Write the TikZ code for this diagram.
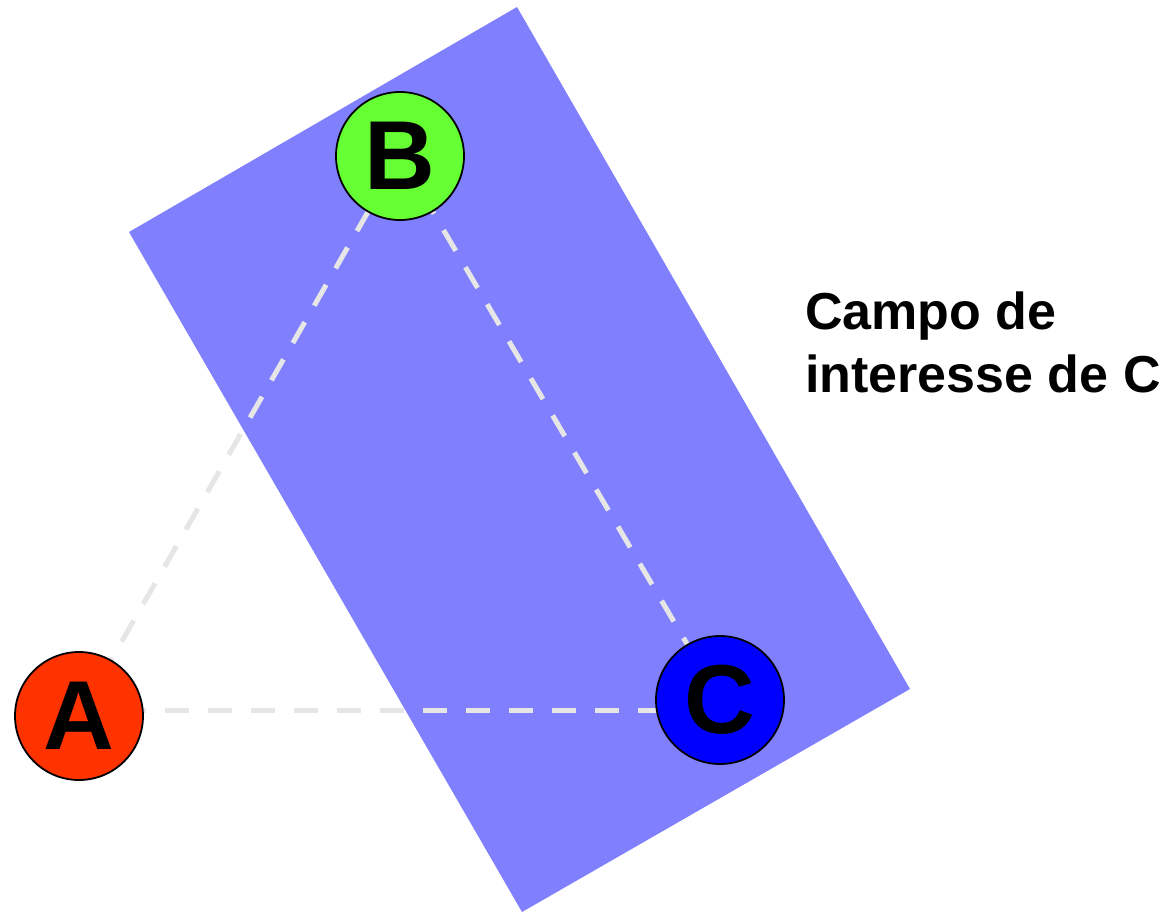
\documentclass[tikz,border=0pt]{standalone}
\usepackage{fontspec}
\setmainfont{Liberation Sans}
\usetikzlibrary{backgrounds}
\definecolor{rectblue}{HTML}{8080FF}
\definecolor{nodeA}{HTML}{FF3300}
\definecolor{nodeB}{HTML}{66FF33}
\definecolor{nodeC}{HTML}{0000FF}
\definecolor{dashgray}{HTML}{E6E6E6}
\begin{document}
\begin{tikzpicture}[x=1pt,y=-1pt,
  peer/.style={circle, draw=black, line width=1.8pt, minimum size=128pt, inner sep=0pt,
    font=\fontsize{98}{98}\selectfont\bfseries},
  link/.style={draw=dashgray, line width=5pt, dash pattern=on 24pt off 19pt},
  field/.style={fill=rectblue, draw=none}]
\useasboundingbox (0,0) rectangle (1175,914);
% nodes
\node[peer, fill=nodeA] (A) at (79,716) {A};
\node[peer, fill=nodeB] (B) at (400,156) {B};
\node[peer, fill=nodeC] (C) at (720,700) {C};
\begin{scope}[on background layer]
  % field of interest of C
  \path[field] (517,7) -- (910,689) -- (522,912) -- (129,232) -- cycle;
  % links
  \path[link] (A.center) -- (B.center);
  \path[link] ([yshift=6pt]A.center) -- ([yshift=-10pt]C.center);
  \path[link] (B.center) -- (C.center);
\end{scope}
\node[anchor=north west, align=left, inner sep=0pt,
  font=\fontsize{52}{63}\selectfont\bfseries] (label) at (805,292) {Campo de\\interesse de C};
\end{tikzpicture}
\end{document}
